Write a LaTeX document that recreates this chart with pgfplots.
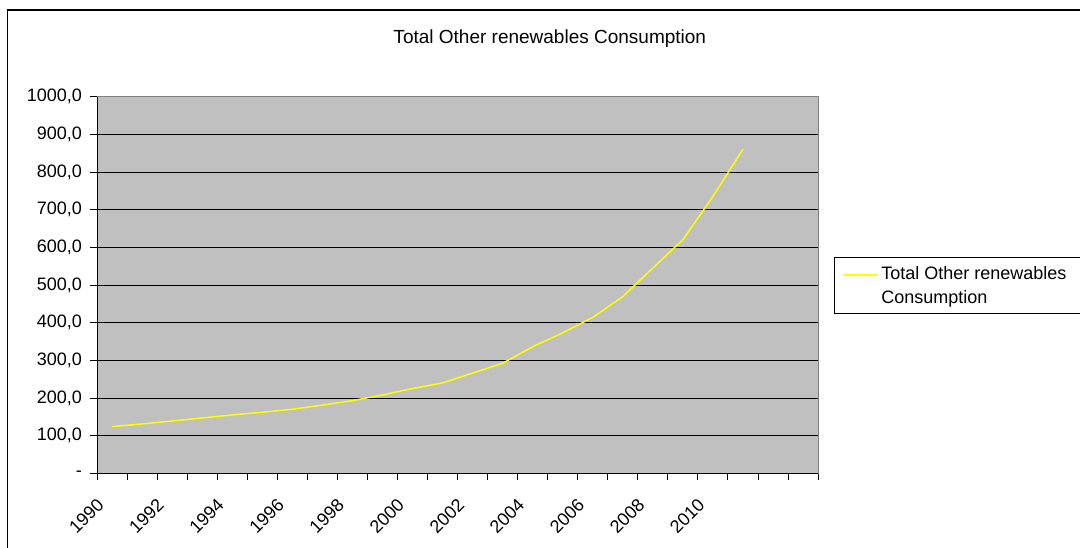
\documentclass[border=0pt]{standalone}
\usepackage{fontspec}
\setmainfont{Liberation Sans}
\usepackage{pgfplots}
\pgfplotsset{compat=1.18}
\definecolor{plotgray}{HTML}{C0C0C0}
\definecolor{bordergray}{HTML}{808080}
\definecolor{lineyellow}{HTML}{FFFF00}

\begin{document}
\begin{tikzpicture}
\useasboundingbox (0,0) rectangle (1080bp,548bp);
\clip (0,0) rectangle (1080bp,548bp);
\fill[white] (0,0) rectangle (1080bp,548bp);
% outer chart frame (right and bottom edges fall outside the picture)
\draw[line width=1.4bp] (7.5bp,-20bp) rectangle (1100bp,538bp);
\begin{axis}[
    at={(97bp,74.7bp)}, anchor=south west,
    scale only axis, width=721bp, height=376.6bp,
    xmin=-0.5, xmax=23.5, ymin=0, ymax=1000,
    clip=false,
    axis background/.style={fill=plotgray},
    axis line style={draw=bordergray, line width=1bp},
    tick pos=left, tick align=outside,
    ytick={0,100,...,1000},
    yticklabels={-,{100,0},{200,0},{300,0},{400,0},{500,0},{600,0},{700,0},{800,0},{900,0},{1000,0}},
    xtick={0,2,...,20},
    xticklabels={1990,1992,1994,1996,1998,2000,2002,2004,2006,2008,2010},
    minor xtick={-0.5,0.5,...,23.5},
    major x tick style={draw=none},
    minor x tick style={black, line width=0.8bp},
    major y tick style={black, line width=0.8bp},
    major tick length=6.5bp, minor tick length=6.7bp,
    ymajorgrids, major grid style={black, line width=0.8bp},
    xticklabel style={xshift=-16bp, yshift=-13bp, rotate=45, anchor=north east,
        font=\fontsize{18bp}{20bp}\selectfont},
    yticklabel style={xshift=-5bp, font=\fontsize{18bp}{20bp}\selectfont},
    title={Total Other renewables Consumption},
    title style={at={(0.628,1.161)}, anchor=center, yshift=-9bp,
        font=\fontsize{19bp}{22bp}\selectfont},
    legend style={at={(1.0222,0.5736)}, anchor=north west, draw=black, line width=0.8bp,
        fill=white, inner ysep=7bp, font=\fontsize{18bp}{23.5bp}\selectfont, cells={align=left}},
    legend cell align=left,
    legend image code/.code={\path[draw=none, fill=none] (0bp,-10.5bp) rectangle (42bp,10.5bp);
        \draw[#1] (6bp,10.5bp) -- (41bp,10.5bp);},
]
\addplot[lineyellow, line width=1.5bp] coordinates {
    (0,124) (1,131) (2,139) (3,147) (4,155) (5,162) (6,170) (7,181)
    (8,193) (9,208) (10,225) (11,240) (12,266) (13,292) (14,336) (15,373)
    (16,414) (17,469) (18,545) (19,620) (20,735) (21,860)
};
\addlegendentry{Total Other renewables\hspace*{40bp}\\Consumption}
\draw[black, line width=1bp] (rel axis cs:0,1) -- (rel axis cs:0,0) -- (rel axis cs:1,0);
\end{axis}
\end{tikzpicture}
\end{document}
